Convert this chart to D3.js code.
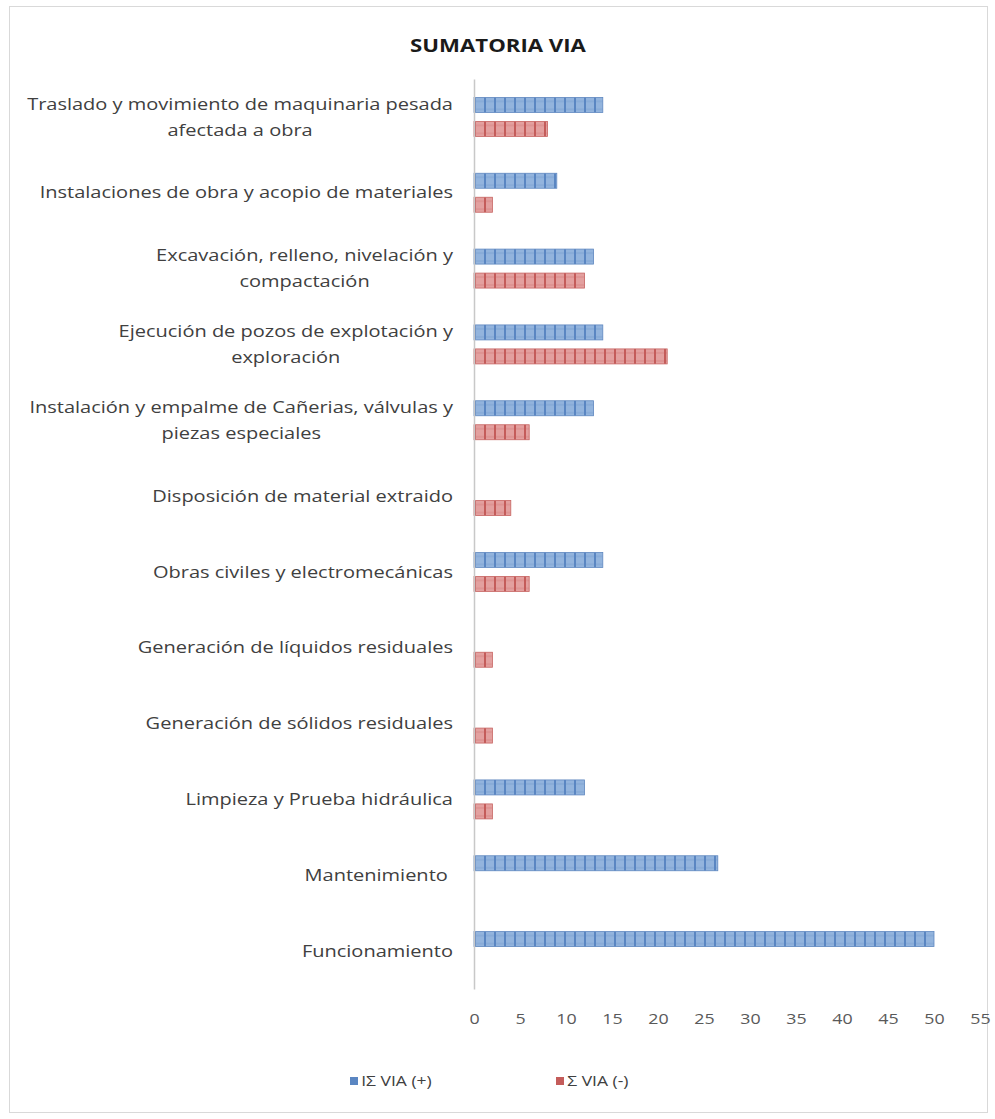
<!DOCTYPE html>
<html>
<head>
<meta charset="utf-8">
<script src="https://cdn.jsdelivr.net/npm/d3@7"></script>
<style>
  html, body { margin: 0; padding: 0; background: #ffffff; }
  svg { display: block; }
  text { font-family: "Open Sans", "Noto Sans", sans-serif; }
</style>
</head>
<body>
<svg id="chart" width="995" height="1119"></svg>
<script>
// ---- data ----
const title = "SUMATORIA VIA";
const categories = [
  "Traslado y movimiento de maquinaria pesada\nafectada a obra",
  "Instalaciones de obra y acopio de materiales",
  "Excavación, relleno, nivelación y\ncompactación",
  "Ejecución de pozos de explotación y\nexploración",
  "Instalación y empalme de Cañerias, válvulas y\npiezas especiales",
  "Disposición de material extraido",
  "Obras civiles y electromecánicas",
  "Generación de líquidos residuales",
  "Generación de sólidos residuales",
  "Limpieza y Prueba hidráulica",
  "Mantenimiento ",
  "Funcionamiento"
];
const seriesNames = ["IΣ VIA (+)", "Σ VIA (-)"];
const viaPositive = [14, 9, 13, 14, 13, 0, 14, 0, 0, 12, 26.5, 50];
const viaNegative = [8, 2, 12, 21, 6, 4, 6, 2, 2, 2, 0, 0];
const xTicks = [0, 5, 10, 15, 20, 25, 30, 35, 40, 45, 50, 55];

// ---- layout ----
const svg = d3.select("#chart");
const plotLeft = 474, plotRight = 980, plotTop = 79, plotBottom = 989;
const stretch = 1.25; // horizontal stretch of the reference typography

const x = d3.scaleLinear().domain([0, 55]).range([plotLeft, plotRight]);
const y0 = d3.scaleBand().domain(d3.range(categories.length))
  .range([plotTop, plotBottom]).paddingInner(0.486).paddingOuter(0.243);
const y1 = d3.scaleBand().domain([0, 1]).range([0, y0.bandwidth()]).paddingInner(0.375);

const colors = [
  { bg: "#93b4dd", line: "#5a86c2", stroke: "#5f88c0" },
  { bg: "#e3a09f", line: "#c45c5a", stroke: "#c76462" }
];

// patterns
const defs = svg.append("defs");
colors.forEach((c, i) => {
  const p = defs.append("pattern").attr("id", "pat" + i)
    .attr("patternUnits", "userSpaceOnUse").attr("width", 10).attr("height", 8)
    .attr("x", plotLeft);
  p.append("rect").attr("width", 10).attr("height", 8).attr("fill", c.bg);
  p.append("rect").attr("x", 0).attr("width", 2).attr("height", 8).attr("fill", c.line);
  p.append("rect").attr("x", 2).attr("y", 3.5).attr("width", 8).attr("height", 1).attr("fill", c.line).attr("opacity", 0.35);
});

// frame
svg.append("rect").attr("x", 9.5).attr("y", 6.5).attr("width", 978).attr("height", 1106)
  .attr("fill", "#fff").attr("stroke", "#d9d9d9").attr("stroke-width", 1);

// title
svg.append("g").attr("transform", `translate(498,52) scale(1.2,1)`)
  .append("text").attr("text-anchor", "middle")
  .attr("font-size", 18.5).attr("font-weight", "bold").attr("fill", "#1a1a1a").text(title);

// bars
const rows = categories.map((c, i) => ({ i, vals: [viaPositive[i], viaNegative[i]] }));
const groups = svg.append("g").selectAll("g").data(rows).join("g")
  .attr("transform", d => `translate(0,${y0(d.i)})`);
groups.selectAll("rect").data(d => d.vals.map((v, s) => ({ v, s })).filter(e => e.v > 0))
  .join("rect")
  .attr("x", x(0))
  .attr("y", e => y1(e.s))
  .attr("width", e => x(e.v) - x(0))
  .attr("height", y1.bandwidth())
  .attr("fill", e => `url(#pat${e.s})`)
  .attr("stroke", e => colors[e.s].stroke)
  .attr("stroke-width", 0.8);

// vertical category axis line
const yAxis = svg.append("g").attr("transform", `translate(${plotLeft},0)`)
  .call(d3.axisLeft(y0).tickSize(0).tickFormat(""));
yAxis.select(".domain").attr("stroke", "#c8c8c8").attr("stroke-width", 1.5);

// category labels
const labelRight = 453;
const lineGap = 26;
categories.forEach((c, i) => {
  const lines = c.split("\n");
  const cy = y0(i) + y0.bandwidth() / 2;
  const g = svg.append("g").attr("transform", `translate(${labelRight},0) scale(${stretch},1)`);
  const texts = lines.map((ln, k) => g.append("text")
    .attr("y", cy + (k - (lines.length - 1) / 2) * lineGap)
    .attr("dy", "0.35em")
    .attr("font-size", 16)
    .attr("fill", "#404040")
    .style("white-space", "pre")
    .attr("text-anchor", "middle")
    .text(ln));
  const w = d3.max(texts, t => t.node().getComputedTextLength());
  texts.forEach(t => t.attr("x", -w / 2));
});

// x axis
const xAxis = svg.append("g").attr("transform", `translate(0,${plotBottom})`)
  .call(d3.axisBottom(x).tickValues(xTicks).tickSize(0).tickPadding(24));
xAxis.select(".domain").remove();
xAxis.selectAll("text").attr("font-size", 15).attr("fill", "#595959")
  .attr("transform", `scale(${stretch * 0.95},1)`)
  .style("font-family", "'Open Sans', sans-serif");

// legend
const legendItems = [
  { name: seriesNames[0], x: 350 },
  { name: seriesNames[1], x: 556 }
];
const lg = svg.append("g").selectAll("g").data(legendItems).join("g")
  .attr("transform", d => `translate(${d.x},1081)`);
lg.append("rect").attr("x", 0).attr("y", -4).attr("width", 8).attr("height", 8)
  .attr("fill", (d, i) => colors[i].line);
lg.append("text").attr("x", 9).attr("dy", "0.35em").attr("font-size", 14)
  .attr("transform", `scale(${stretch},1)`)
  .attr("fill", "#404040").text(d => d.name);
</script>
</body>
</html>
